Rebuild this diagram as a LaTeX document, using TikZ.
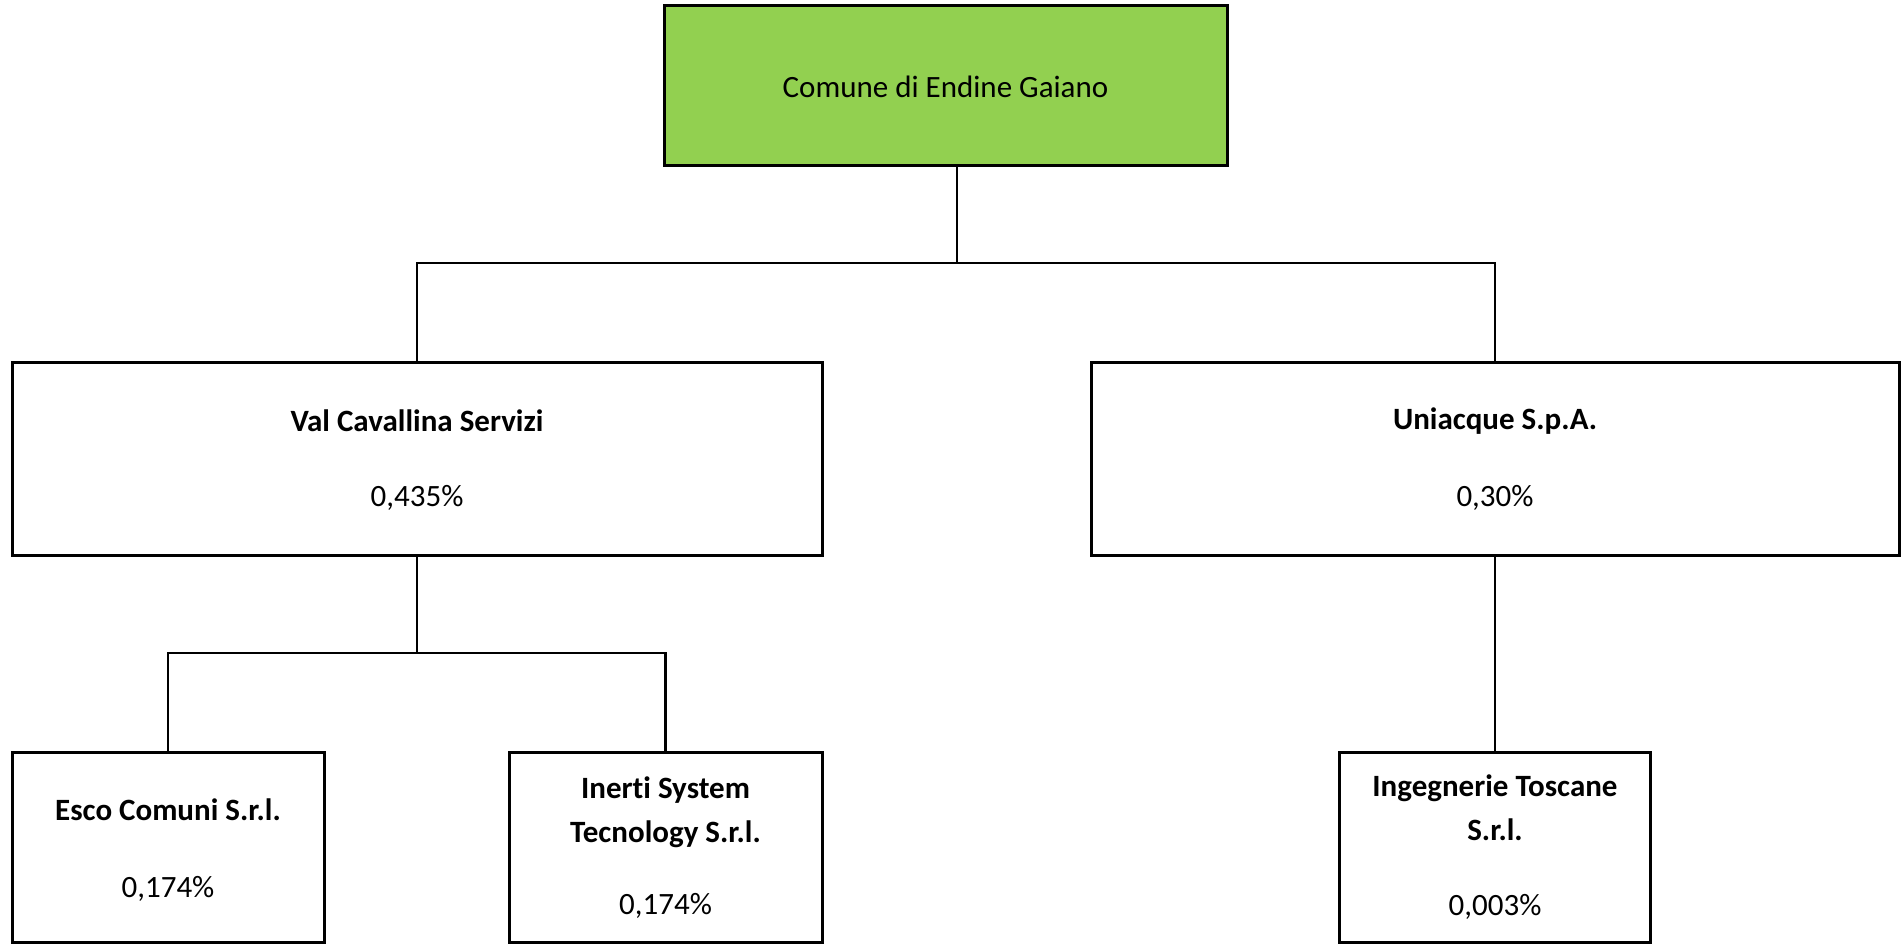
\documentclass[tikz,border=0pt]{standalone}
\usepackage{fontspec}
\setmainfont{Carlito}[Ligatures={NoCommon}]
\definecolor{boxgreen}{HTML}{92D050}
\begin{document}
\begin{tikzpicture}[x=1pt,y=-1pt,
  orgbox/.style={draw=black,line width=3pt,rectangle,inner sep=0pt},
  conn/.style={draw=black,line width=2.6pt},
  lbl/.style={font=\fontsize{31}{37}\selectfont,inner sep=0pt,anchor=center},
  blbl/.style={font=\fontsize{31}{37}\selectfont\bfseries,inner sep=0pt,anchor=center}]
\useasboundingbox (0,0) rectangle (1901,944);
% boxes
\node[orgbox,fill=boxgreen,minimum width=563pt,minimum height=160pt] (top) at (945.5,86) {};
\node[orgbox,fill=white,minimum width=810pt,minimum height=193pt] (vcs) at (417,458.5) {};
\node[orgbox,fill=white,minimum width=808pt,minimum height=193pt] (uni) at (1495,458.5) {};
\node[orgbox,fill=white,minimum width=312pt,minimum height=190pt] (esco) at (168,847) {};
\node[orgbox,fill=white,minimum width=313pt,minimum height=190pt] (inerti) at (665.5,847) {};
\node[orgbox,fill=white,minimum width=311pt,minimum height=190pt] (ing) at (1495,847) {};
% texts
\node[lbl] (t0) at (945.5,87) {Comune di Endine Gaiano};
\node[blbl] (t1a) at (417,421) {Val Cavallina Servizi};
\node[lbl] (t1b) at (417,498) {0,435\%};
\node[blbl] (t2a) at (1495,421) {Uniacque S.p.A.};
\node[lbl] (t2b) at (1495,498) {0,30\%};
\node[blbl] (t3a) at (168,810) {Esco Comuni S.r.l.};
\node[lbl] (t3b) at (168,889) {0,174\%};
\node[blbl] (t4a) at (665.5,790) {Inerti System};
\node[blbl] (t4b) at (665.5,834) {Tecnology S.r.l.};
\node[lbl] (t4c) at (665.5,906) {0,174\%};
\node[blbl] (t5a) at (1495,788) {Ingegnerie Toscane};
\node[blbl] (t5b) at (1495,830) {S.r.l.};
\node[lbl] (t5c) at (1495,907) {0,003\%};
% connectors
\coordinate (j1) at (957,263);
\coordinate (j2) at (417,653);
\draw[conn] (j1 |- top.south) -- (j1);
\draw[conn] (vcs.north) |- (j1) -| (uni.north);
\draw[conn] (vcs.south) -- (j2);
\draw[conn] (esco.north) |- (j2) -| (inerti.north);
\draw[conn] (uni.south) -- (ing.north);
\end{tikzpicture}
\end{document}
